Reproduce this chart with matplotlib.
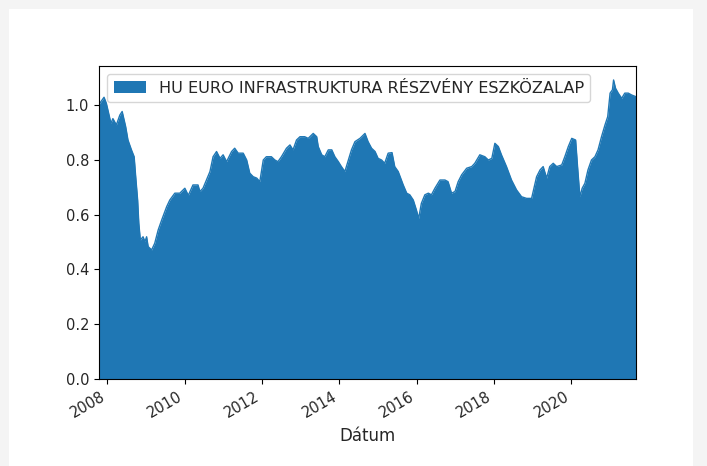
import matplotlib
matplotlib.use("Agg")
import matplotlib.pyplot as plt
import matplotlib.dates as mdates
from matplotlib.patches import Rectangle
import pandas as pd
import numpy as np

series_name = "HU EURO INFRASTRUKTURA RÉSZVÉNY ESZKÖZALAP"
x_label = "Dátum"

# decimal-year positions
years = [
    2007.78, 2007.80, 2007.91, 2007.97, 2008.06, 2008.09, 2008.14, 2008.23, 2008.32, 2008.38,
    2008.47, 2008.53, 2008.62, 2008.69, 2008.73, 2008.78, 2008.81, 2008.85, 2008.92, 2008.97,
    2009.01, 2009.05, 2009.14, 2009.22, 2009.31, 2009.40, 2009.53, 2009.61, 2009.74, 2009.87,
    2010.00, 2010.09, 2010.21, 2010.34, 2010.39, 2010.47, 2010.56, 2010.65, 2010.73, 2010.82,
    2010.91, 2010.99, 2011.08, 2011.21, 2011.29, 2011.38, 2011.51, 2011.60, 2011.68, 2011.77,
    2011.86, 2011.94, 2012.03, 2012.11, 2012.24, 2012.33, 2012.41, 2012.50, 2012.63, 2012.72,
    2012.80, 2012.89, 2012.98, 2013.10, 2013.19, 2013.32, 2013.41, 2013.45, 2013.54, 2013.62,
    2013.71, 2013.80, 2013.88, 2013.97, 2014.05, 2014.14, 2014.23, 2014.31, 2014.40, 2014.53,
    2014.66, 2014.74, 2014.83, 2014.92, 2015.00, 2015.09, 2015.17, 2015.26, 2015.36, 2015.43,
    2015.52, 2015.65, 2015.74, 2015.82, 2015.91, 2015.99, 2016.05, 2016.12, 2016.21, 2016.30,
    2016.38, 2016.47, 2016.60, 2016.73, 2016.81, 2016.90, 2016.99, 2017.07, 2017.16, 2017.29,
    2017.42, 2017.50, 2017.63, 2017.76, 2017.85, 2017.94, 2018.02, 2018.11, 2018.19, 2018.32,
    2018.45, 2018.58, 2018.71, 2018.84, 2018.97, 2019.04, 2019.10, 2019.19, 2019.27, 2019.36,
    2019.44, 2019.53, 2019.62, 2019.75, 2019.83, 2019.92, 2020.01, 2020.11, 2020.16, 2020.22,
    2020.28, 2020.35, 2020.43, 2020.52, 2020.61, 2020.69, 2020.78, 2020.87, 2020.94, 2021.00,
    2021.06, 2021.09, 2021.14, 2021.21, 2021.30, 2021.38, 2021.47, 2021.56, 2021.67,
]
values = [
    1.000, 1.006, 1.028, 1.006, 0.951, 0.933, 0.950, 0.927, 0.963, 0.976,
    0.921, 0.872, 0.836, 0.811, 0.738, 0.653, 0.569, 0.507, 0.519, 0.501,
    0.519, 0.483, 0.471, 0.495, 0.544, 0.580, 0.629, 0.653, 0.678, 0.678,
    0.696, 0.670, 0.708, 0.708, 0.684, 0.696, 0.726, 0.757, 0.811, 0.830,
    0.805, 0.818, 0.793, 0.830, 0.842, 0.824, 0.824, 0.799, 0.751, 0.738,
    0.733, 0.720, 0.799, 0.811, 0.811, 0.799, 0.793, 0.811, 0.842, 0.854,
    0.836, 0.872, 0.884, 0.884, 0.878, 0.896, 0.884, 0.848, 0.818, 0.811,
    0.836, 0.836, 0.811, 0.793, 0.775, 0.757, 0.799, 0.836, 0.866, 0.878,
    0.896, 0.866, 0.842, 0.830, 0.805, 0.799, 0.787, 0.824, 0.826, 0.775,
    0.757, 0.708, 0.678, 0.672, 0.653, 0.617, 0.586, 0.641, 0.672, 0.678,
    0.672, 0.696, 0.726, 0.726, 0.720, 0.678, 0.684, 0.720, 0.745, 0.769,
    0.775, 0.787, 0.818, 0.811, 0.799, 0.805, 0.860, 0.848, 0.818, 0.775,
    0.726, 0.690, 0.665, 0.659, 0.659, 0.702, 0.738, 0.763, 0.775, 0.733,
    0.775, 0.787, 0.775, 0.781, 0.811, 0.848, 0.878, 0.872, 0.775, 0.665,
    0.696, 0.714, 0.763, 0.799, 0.811, 0.836, 0.884, 0.927, 0.957, 1.043,
    1.055, 1.091, 1.061, 1.043, 1.024, 1.043, 1.043, 1.036, 1.030,
]

def to_date(y):
    yr = int(np.floor(y))
    start = pd.Timestamp(year=yr, month=1, day=1)
    return start + pd.Timedelta(days=(y - yr) * 365.25)

dates = pd.to_datetime([to_date(y) for y in years])

text_color = "#262626"
W, H = 707, 466
fig = plt.figure(figsize=(W / 100, H / 100), dpi=100)
fig.patch.set_facecolor("#f4f4f4")
fig.patches.append(Rectangle((9 / W, 0), (693 - 9) / W, (H - 9) / H,
                             transform=fig.transFigure, facecolor="white",
                             edgecolor="none", zorder=-1))

ax = fig.add_axes([99 / W, (H - 379) / H, (636 - 99) / W, (379 - 66) / H])
color = "#1f77b4"
ax.fill_between(dates, 0, values, color=color, linewidth=0, label=series_name)
ax.plot(dates, values, color=color, linewidth=1)

ax.set_xlim(dates[0], dates[-1])
ax.set_ylim(0, 1.142)
ax.set_yticks([0.0, 0.2, 0.4, 0.6, 0.8, 1.0])
ax.yaxis.set_major_formatter(matplotlib.ticker.FormatStrFormatter("%.1f"))

loc = mdates.YearLocator(2)
ax.xaxis.set_major_locator(loc)
ax.xaxis.set_major_formatter(mdates.DateFormatter("%Y"))
ax.tick_params(labelsize=10.5, labelcolor=text_color)
for lbl in ax.get_xticklabels():
    lbl.set_rotation(30)
    lbl.set_ha("right")

ax.set_xlabel(x_label, fontsize=12, color=text_color, labelpad=5)
leg = ax.legend(loc="upper left", fontsize=11.6)
for t in leg.get_texts():
    t.set_color(text_color)

fig.savefig("out.png", dpi=100, facecolor=fig.get_facecolor())
